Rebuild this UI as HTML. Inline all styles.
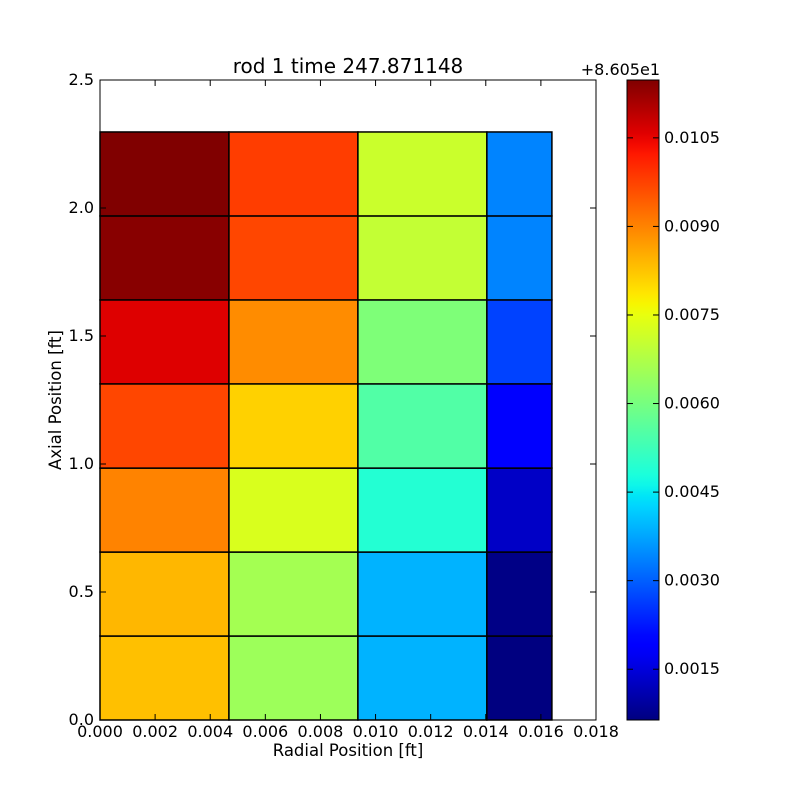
<!DOCTYPE html>
<html><head><meta charset="utf-8"><style>
body{margin:0;background:#fff;}
svg text{font-family:"DejaVu Sans","Liberation Sans",sans-serif;font-size:16px;fill:#000;}
</style></head><body>
<svg id="chart" width="800" height="800" xmlns="http://www.w3.org/2000/svg">
<defs><linearGradient id="jetgrad" x1="0" y1="1" x2="0" y2="0"></linearGradient></defs>
<g id="cells"></g>
<rect x="100" y="80" width="496" height="640" fill="none" stroke="#000" stroke-width="1"/>
<g id="axes"></g>
<text x="348" y="73" text-anchor="middle" style="font-size:20px">rod 1 time 247.871148</text>
<text x="348" y="756" text-anchor="middle" style="font-size:16.5px">Radial Position [ft]</text>
<text x="61" y="400" text-anchor="middle" transform="rotate(-90 61 400)" style="font-size:16.5px">Axial Position [ft]</text>
<rect x="627" y="80" width="32" height="640" fill="url(#jetgrad)" stroke="#000"/>
<g id="cbticks"></g>
<text x="660" y="75" text-anchor="end" style="font-size:16px">+8.605e1</text>
</svg>
<script>
const xEdges=[0,0.00468,0.00936,0.01404,0.01640];
const yEdges=[0,0.328,0.656,0.984,1.313,1.641,1.969,2.297];
// values[row][col], row 0 = bottom
const values=[
[0.0083,0.0065,0.0039,0.00064],
[0.0084,0.0066,0.0039,0.0007],
[0.0090,0.0073,0.0049,0.0013],
[0.0097,0.0081,0.0055,0.0020],
[0.0106,0.0089,0.0061,0.0027],
[0.0114,0.0097,0.0070,0.0034],
[0.0115,0.0098,0.0071,0.0034]];
const xTicks=["0.000","0.002","0.004","0.006","0.008","0.010","0.012","0.014","0.016","0.018"];
const yTicks=["0.0","0.5","1.0","1.5","2.0","2.5"];
const cbTicks=["0.0015","0.0030","0.0045","0.0060","0.0075","0.0090","0.0105"];
const vmin=0.00064,vmax=0.01148;
const NS="http://www.w3.org/2000/svg";
const X=v=>100+v/0.018*496, Y=v=>720-v/2.5*640, CY=v=>720-(v-vmin)/(vmax-vmin)*640;
function seg(pts,t){t=Math.max(0,Math.min(1,t));for(let i=1;i<pts.length;i++){if(t<=pts[i][0]){const a=pts[i-1],b=pts[i];return a[1]+(b[1]-a[1])*(t-a[0])/(b[0]-a[0]);}}return pts[pts.length-1][1];}
const RS=[[0,0],[0.35,0],[0.66,1],[0.89,1],[1,0.5]];
const GS=[[0,0],[0.125,0],[0.375,1],[0.64,1],[0.91,0],[1,0]];
const BS=[[0,0.5],[0.11,1],[0.34,1],[0.65,0],[1,0]];
function jet(t){return `rgb(${Math.round(seg(RS,t)*255)},${Math.round(seg(GS,t)*255)},${Math.round(seg(BS,t)*255)})`;}
function mk(tag,attrs,parent){const e=document.createElementNS(NS,tag);for(const k in attrs)e.setAttribute(k,attrs[k]);parent.appendChild(e);return e;}
const cells=document.getElementById('cells');
values.forEach((row,i)=>row.forEach((v,j)=>{
const r=mk('rect',{x:X(xEdges[j]),y:Y(yEdges[i+1]),width:X(xEdges[j+1])-X(xEdges[j]),height:Y(yEdges[i])-Y(yEdges[i+1]),fill:jet((v-vmin)/(vmax-vmin)),stroke:'#000','stroke-width':1.5},cells);


}));
const grad=document.getElementById('jetgrad');
for(let k=0;k<=60;k++){mk('stop',{offset:(k/60),'stop-color':jet(k/60)},grad);}
const ax=document.getElementById('axes');
xTicks.forEach(s=>{const x=X(parseFloat(s));
mk('line',{x1:x,x2:x,y1:720,y2:714,stroke:'#000'},ax);mk('line',{x1:x,x2:x,y1:80,y2:86,stroke:'#000'},ax);
const t=mk('text',{x:x,y:737,'text-anchor':'middle'},ax);t.textContent=s;

});
yTicks.forEach(s=>{const y=Y(parseFloat(s));
mk('line',{x1:100,x2:106,y1:y,y2:y,stroke:'#000'},ax);mk('line',{x1:596,x2:590,y1:y,y2:y,stroke:'#000'},ax);
const t=mk('text',{x:94,y:y+5,'text-anchor':'end'},ax);t.textContent=s;

});
const cb=document.getElementById('cbticks');
cbTicks.forEach(s=>{const y=CY(parseFloat(s));
mk('line',{x1:653,x2:659,y1:y,y2:y,stroke:'#000'},cb);mk('line',{x1:627,x2:633,y1:y,y2:y,stroke:'#000'},cb);
const t=mk('text',{x:664,y:y+5},cb);t.textContent=s;

});
</script>
</body></html>
